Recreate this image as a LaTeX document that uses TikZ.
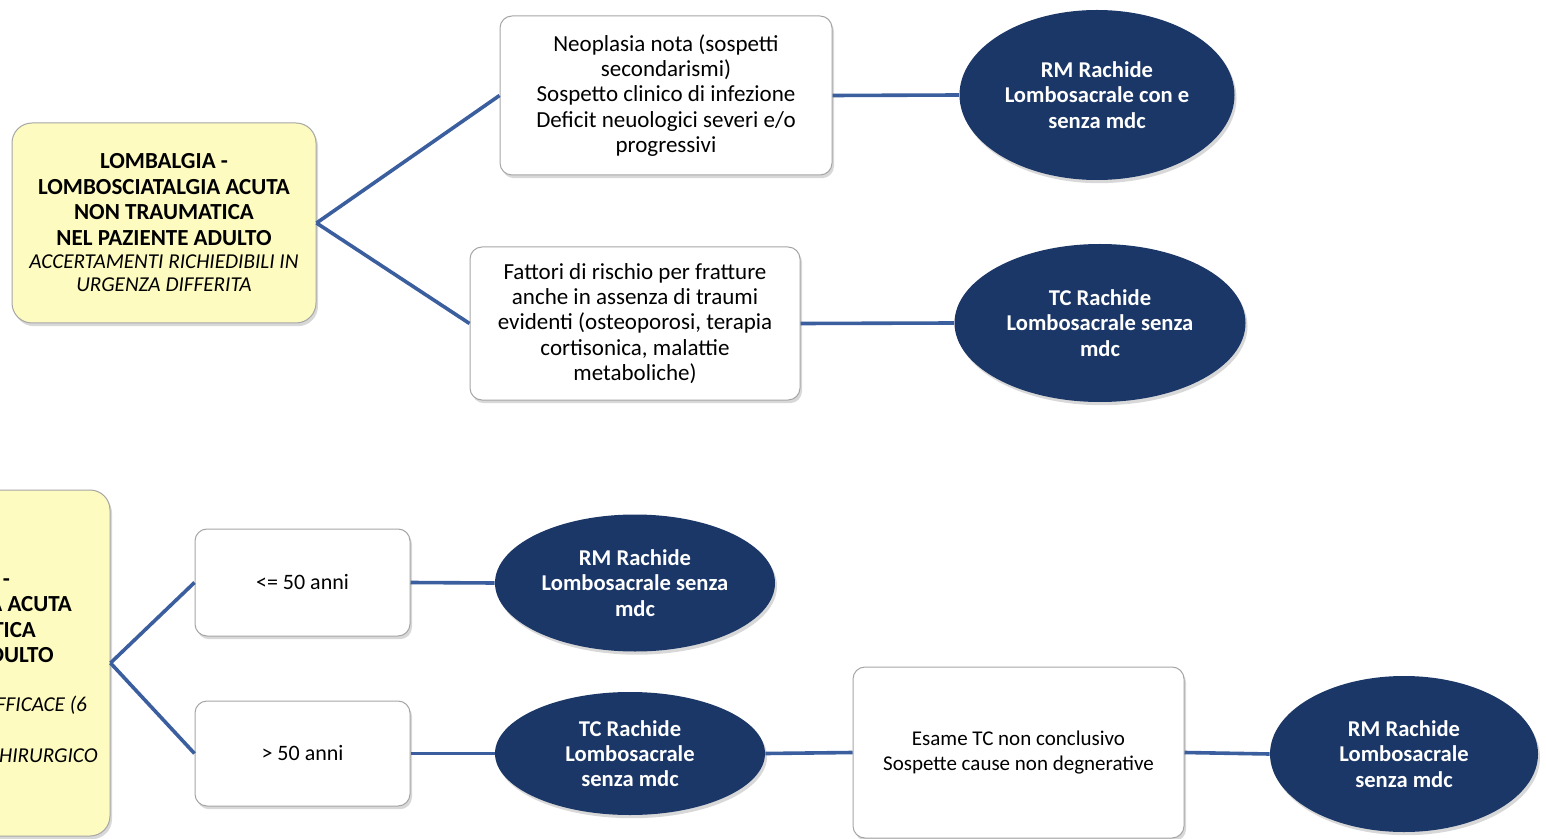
\documentclass[tikz,border=0pt]{standalone}
\usepackage{fontspec}
\setmainfont{Carlito}
\usetikzlibrary{shapes.geometric,shadows}

\definecolor{navy}{HTML}{1B3767}
\definecolor{wire}{HTML}{3B5E9E}
\definecolor{pale}{HTML}{FDFBC0}

\newcommand{\subnote}[1]{{\fontsize{10.6}{12}\selectfont\mdseries\itshape #1}}

\tikzset{
  shade/.style={drop shadow={opacity=.3,shadow xshift=1pt,shadow yshift=-1.6pt}},
  topic/.style={draw=gray!70,fill=pale,rounded corners=10pt,line width=.5pt,shade,
    align=center,inner sep=0pt,font=\fontsize{11.5}{12.7}\selectfont\bfseries},
  crit/.style={draw=gray!70,fill=white,rounded corners=6pt,line width=.5pt,shade,
    align=center,inner sep=0pt,font=\fontsize{11.5}{12.6}\selectfont},
  exam/.style={ellipse,fill=navy,shade,text=white,align=center,inner sep=0pt,
    font=\fontsize{11.3}{12.6}\selectfont\bfseries},
  link/.style={draw=wire,line width=1.8pt}
}

\begin{document}
\begin{tikzpicture}[x=0.5pt,y=-0.5pt]
  \clip (0,0) rectangle (1546,839);
  \fill[white] (0,0) rectangle (1546,839);

  % first pathway
  \node[topic,minimum width=152pt,minimum height=100pt] (pain) at (164,223)
    {LOMBALGIA -\\LOMBOSCIATALGIA ACUTA\\NON TRAUMATICA\\NEL PAZIENTE ADULTO\\[-1pt]
     \subnote{ACCERTAMENTI RICHIEDIBILI IN}\\[-1pt]
     \subnote{URGENZA DIFFERITA}};
  \node[crit,minimum width=166pt,minimum height=79.5pt] (redflag) at (666,95.5)
    {Neoplasia nota (sospetti\\secondarismi)\\Sospetto clinico di infezione\\
     Deficit neuologici severi e/o\\progressivi};
  \node[crit,minimum width=165pt,minimum height=76.5pt] (fract) at (635,323.5)
    {Fattori di rischio per fratture\\anche in assenza di traumi\\
     evidenti (osteoporosi, terapia\\cortisonica, malattie\\metaboliche)};
  \node[exam,minimum width=137.5pt,minimum height=85pt] (rmmdc) at (1097,95)
    {RM Rachide\\Lombosacrale con e\\senza mdc};
  \node[exam,minimum width=145.5pt,minimum height=79pt] (tcone) at (1100,323)
    {TC Rachide\\Lombosacrale senza\\mdc};

  \draw[link] (pain.east) -- (redflag.west);
  \draw[link] (pain.east) -- (fract.west);
  \draw[link] (redflag.east) -- (rmmdc.west);
  \draw[link] (fract.east) -- (tcone.west);

  % second pathway
  \node[topic,minimum width=164pt,minimum height=173pt] (pain2) at (-54,663)
    {\rule{0pt}{11.5pt}LOMBALGIA -\\LOMBOSCIATALGIA ACUTA\\NON TRAUMATICA\\
     NEL PAZIENTE ADULTO\\[12pt]
     \subnote{TRATTAMENTO NON EFFICACE (6}\\
     \subnote{SETTIMANE)}\\
     \subnote{PAZIENTE CANDIDATO CHIRURGICO}};
  \node[crit,minimum width=107.5pt,minimum height=53.5pt] (young) at (302.5,582.5)
    {\fontsize{11}{12}\selectfont <= 50 anni};
  \node[crit,minimum width=107.5pt,minimum height=52.5pt] (old) at (302.5,753.5)
    {\fontsize{11}{12}\selectfont > 50 anni};
  \node[exam,minimum width=140pt,minimum height=68.5pt] (rmyoung) at (635,583)
    {RM Rachide\\Lombosacrale senza\\mdc};
  \node[exam,minimum width=135pt,minimum height=61.5pt] (tcold) at (630,753.5)
    {TC Rachide\\Lombosacrale\\senza mdc};
  \node[crit,minimum width=165.5pt,minimum height=85.5pt] (noconcl) at (1018.5,752.5)
    {\fontsize{10.5}{11.6}\selectfont Esame TC non conclusivo\\
     \fontsize{10.5}{11.6}\selectfont Sospette cause non degnerative};
  \node[exam,minimum width=134pt,minimum height=78pt] (rmold) at (1404,754)
    {RM Rachide\\Lombosacrale\\senza mdc};

  \draw[link] (pain2.east) -- (young.west);
  \draw[link] (pain2.east) -- (old.west);
  \draw[link] (young.east) -- (rmyoung.west);
  \draw[link] (old.east) -- (tcold.west);
  \draw[link] (tcold.east) -- (noconcl.west);
  \draw[link] (noconcl.east) -- (rmold.west);
\end{tikzpicture}
\end{document}
